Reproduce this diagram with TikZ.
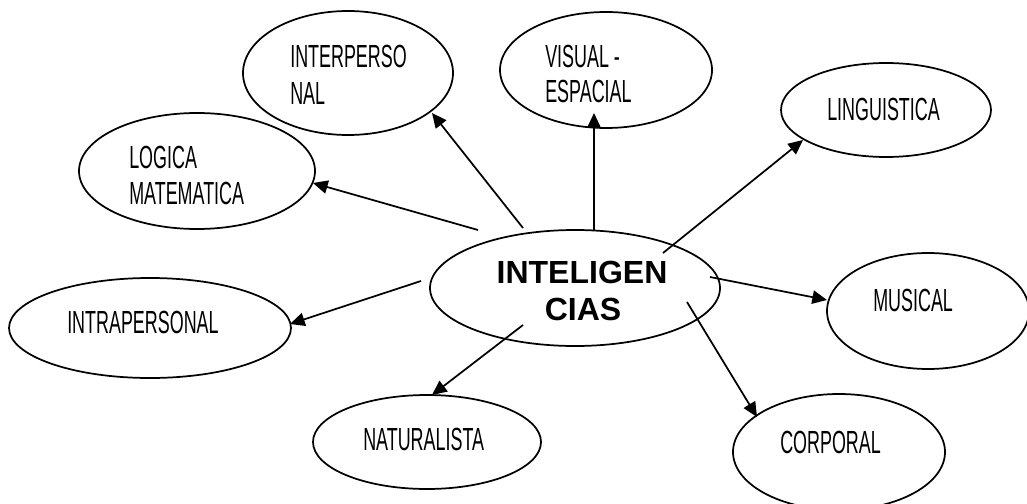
\documentclass[tikz,border=0pt]{standalone}
\usepackage{fontspec}
\usetikzlibrary{shapes.geometric,arrows.meta}
\newfontfamily\condfont[FakeStretch=0.56]{Liberation Sans}
\newfontfamily\boldfont{Liberation Sans}
\tikzset{
  ell/.style={draw, ellipse, line width=1.3pt, inner sep=0pt},
  lbl/.style={anchor=base west, inner sep=0pt, font=\condfont\fontsize{24pt}{26pt}\selectfont},
  mainlbl/.style={anchor=base, inner sep=0pt, font=\boldfont\bfseries\fontsize{24pt}{26pt}\selectfont},
  arr/.style={line width=1.3pt, -{Triangle[length=11pt,width=10pt]}}
}
\begin{document}
\begin{tikzpicture}[x=0.75pt,y=-0.75pt]
\useasboundingbox (0,0) rectangle (1027,503);
\clip (0,0) rectangle (1027,503);
% ellipses
\node[ell, minimum width=157.5pt, minimum height=93pt] (inter) at (348,73) {};
\node[ell, minimum width=159pt, minimum height=87pt] (visual) at (606,70) {};
\node[ell, minimum width=157.5pt, minimum height=70.5pt] (ling) at (886,110) {};
\node[ell, minimum width=177pt, minimum height=87pt] (logica) at (197,171) {};
\node[ell, minimum width=211.5pt, minimum height=75pt] (intra) at (150,328) {};
\node[ell, minimum width=217.5pt, minimum height=87pt] (center) at (575,288) {};
\node[ell, minimum width=151.5pt, minimum height=87pt] (musical) at (928,311) {};
\node[ell, minimum width=171pt, minimum height=70.5pt] (natural) at (427,442) {};
\node[ell, minimum width=159pt, minimum height=87pt] (corporal) at (839,452) {};
% texts
\node[lbl] (t-inter1) at (290,68) {INTERPERSO};
\node[lbl] (t-inter2) at (290,104) {NAL};
\node[lbl] (t-vis1) at (545,68) {VISUAL -};
\node[lbl] (t-vis2) at (545,103) {ESPACIAL};
\node[lbl] (t-ling) at (827,120) {LINGUISTICA};
\node[lbl] (t-log1) at (129,168) {LOGICA};
\node[lbl] (t-log2) at (129,204) {MATEMATICA};
\node[lbl] (t-intra) at (67,333) {INTRAPERSONAL};
\node[lbl] (t-mus) at (873,311) {MUSICAL};
\node[lbl] (t-corp) at (780,453) {CORPORAL};
\node[lbl] (t-nat) at (363,450) {NATURALISTA};
\node[mainlbl] (t-main1) at (582,283) {INTELIGEN};
\node[mainlbl] (t-main2) at (583,320) {CIAS};
% arrow end points
\coordinate (s-inter) at (523,228);   \coordinate (e-inter) at (432,113);
\coordinate (s-log) at (478,230);     \coordinate (e-log) at (313,183);
\coordinate (s-vis) at (594,230);     \coordinate (e-vis) at (594,113);
\coordinate (s-ling) at (663,253);    \coordinate (e-ling) at (803,140);
\coordinate (s-mus) at (710,277);     \coordinate (e-mus) at (827,300);
\coordinate (s-corp) at (687,302);    \coordinate (e-corp) at (757,417);
\coordinate (s-nat) at (523,325);     \coordinate (e-nat) at (432,395);
\coordinate (s-intra) at (421,281);   \coordinate (e-intra) at (290,324);
% arrows
\draw[arr] (s-inter) -- (e-inter);
\draw[arr] (s-log) -- (e-log);
\draw[arr] (s-vis) -- (e-vis);
\draw[arr] (s-ling) -- (e-ling);
\draw[arr] (s-mus) -- (e-mus);
\draw[arr] (s-corp) -- (e-corp);
\draw[arr] (s-nat) -- (e-nat);
\draw[arr] (s-intra) -- (e-intra);
\end{tikzpicture}
\end{document}
